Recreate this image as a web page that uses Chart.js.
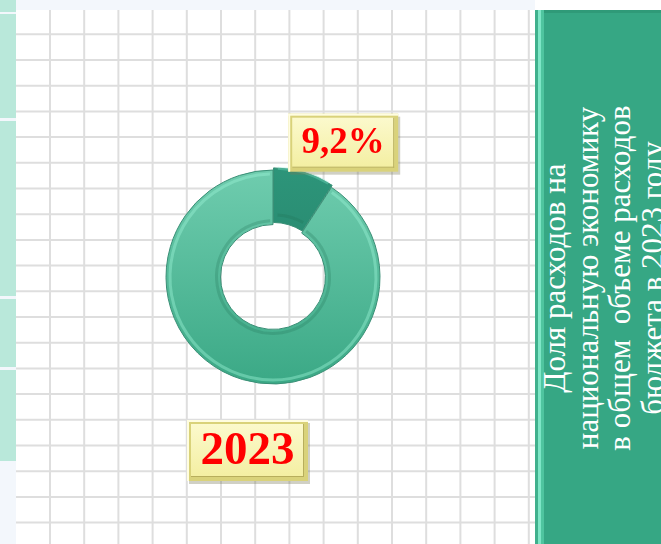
<!DOCTYPE html>
<html>
<head>
<meta charset="utf-8">
<script src="https://cdn.jsdelivr.net/npm/chart.js@4.4.0/dist/chart.umd.min.js"></script>
<style>
  body { margin: 0; width: 661px; height: 544px; overflow: hidden; background: #fff; position: relative; }
  #chart { position: absolute; left: 0; top: 0; }
  #side {
    position: absolute; left: 535px; top: 10px; width: 126px; height: 534px;
    background: #36a784;
    box-shadow: inset 3px 0 0 #3fb08c, inset 6px 0 0 #7ee6c6, inset 9px 0 0 #4fc59f, inset 0 3px 0 #2f9a78;
  }
  #side .txt {
    position: absolute; left: 68.5px; top: 268px; width: 520px;
    transform: translate(-50%, -50%) rotate(-90deg);
    font-family: "Liberation Serif", serif; font-size: 31px; line-height: 32.5px;
    color: #fff; text-align: center; white-space: pre;
  }
</style>
</head>
<body>
<canvas id="chart" width="661" height="544"></canvas>
<div id="side"><div class="txt" id="title"></div></div>

<script>
  // data
  const categories = ['Национальная экономика', 'Прочие расходы'];
  const shares = [9.2, 90.8];
  const yearLabel = '2023';
  const titleLines = ['Доля расходов на', 'национальную экономику', 'в общем  объеме расходов', 'бюджета в 2023 году'];

  document.getElementById('title').textContent = titleLines.join('\n');

  function pctText(v) {
    return v.toFixed(1).replace('.', ',') + '%';
  }

  // squared paper + left strip behind the chart
  const paperPlugin = {
    id: 'paper',
    beforeDraw(chart) {
      const ctx = chart.ctx;
      const W = chart.width, H = chart.height;
      ctx.save();
      ctx.fillStyle = '#fff';
      ctx.fillRect(0, 0, W, H);
      ctx.strokeStyle = '#dedede';
      ctx.lineWidth = 2;
      for (let x = 50; x < 535; x += 34.2) {
        ctx.beginPath(); ctx.moveTo(x, 10); ctx.lineTo(x, H); ctx.stroke();
      }
      for (let y = 8.6; y < H; y += 25.7) {
        ctx.beginPath(); ctx.moveTo(16, y); ctx.lineTo(535, y); ctx.stroke();
      }
      ctx.fillStyle = '#f3f7fc';
      ctx.fillRect(16, 0, 519, 10);
      ctx.fillRect(0, 0, 16, H);
      ctx.fillStyle = '#b9e8da';
      [[0, 12], [14, 118], [121, 296], [299, 367], [370, 461]].forEach(p => {
        ctx.fillRect(0, p[0], 16, p[1] - p[0]);
      });
      ctx.restore();
    }
  };

  function drawTag(ctx, cx, cy, w, h, text, font) {
    const x = cx - w / 2, y = cy - h / 2;
    ctx.save();
    ctx.fillStyle = 'rgba(120,120,90,0.35)';
    ctx.fillRect(x + 2, y + 3, w, h);
    ctx.fillStyle = '#d9d27a';
    ctx.fillRect(x, y, w, h);
    const g = ctx.createLinearGradient(0, y, 0, y + h);
    g.addColorStop(0, '#fcfad0');
    g.addColorStop(1, '#f3ee9e');
    ctx.fillStyle = g;
    ctx.fillRect(x + 4, y + 4, w - 8, h - 8);
    ctx.fillStyle = '#fffde0';
    ctx.fillRect(x, y, w, 2);
    ctx.fillRect(x, y, 2, h);
    ctx.fillStyle = '#b7ae5c';
    ctx.fillRect(x + 4, y + h - 5, w - 8, 1);
    ctx.fillRect(x + w - 5, y + 4, 1, h - 8);
    ctx.fillStyle = '#ff0000';
    ctx.font = font;
    ctx.textAlign = 'center';
    ctx.textBaseline = 'middle';
    ctx.fillText(text, cx, cy + 1);
    ctx.restore();
  }

  // soft highlight on the rim of the ring for a bit of relief
  const reliefPlugin = {
    id: 'relief',
    afterDatasetsDraw(chart) {
      const meta = chart.getDatasetMeta(0);
      const ctx = chart.ctx;
      ctx.save();
      meta.data.forEach((arc, i) => {
        const off = i === 0 ? 6 : 0;
        const mid = (arc.startAngle + arc.endAngle) / 2;
        const cx = arc.x + Math.cos(mid) * off, cy = arc.y + Math.sin(mid) * off;
        ctx.strokeStyle = i === 0 ? 'rgba(120,230,200,0.35)' : 'rgba(150,240,210,0.45)';
        ctx.lineWidth = 3;
        ctx.beginPath();
        ctx.arc(cx, cy, arc.outerRadius - 4, arc.startAngle + 0.03, arc.endAngle - 0.03);
        ctx.stroke();
        ctx.beginPath();
        ctx.arc(cx, cy, arc.innerRadius + 4, arc.startAngle + 0.05, arc.endAngle - 0.05);
        ctx.strokeStyle = 'rgba(30,110,85,0.25)';
        ctx.stroke();
      });
      ctx.restore();
    }
  };

  const tagPlugin = {
    id: 'tags',
    afterDatasetsDraw(chart) {
      const arc = chart.getDatasetMeta(0).data[0];
      const ctx = chart.ctx;
      const mid = (arc.startAngle + arc.endAngle) / 2;
      const r = arc.outerRadius + 6;
      const px = arc.x + Math.cos(mid) * r;
      const py = arc.y + Math.sin(mid) * r;
      drawTag(ctx, px + 38, py - 26, 110, 58, pctText(shares[0]), 'bold 37px "Liberation Serif"');
      drawTag(ctx, arc.x - 25.5, arc.y + 173.5, 121, 61, yearLabel, 'bold 47px "Liberation Serif"');
    }
  };

  function ringFill(ctx, top, bottom) {
    const area = ctx.chart.chartArea;
    if (!area) return top;
    const g = ctx.chart.ctx.createLinearGradient(0, area.top, 0, area.bottom);
    g.addColorStop(0, top);
    g.addColorStop(1, bottom);
    return g;
  }

  new Chart(document.getElementById('chart'), {
    type: 'doughnut',
    data: {
      labels: categories,
      datasets: [{
        data: shares,
        backgroundColor: c => c.dataIndex === 0
          ? ringFill(c, '#2d957a', '#237c63')
          : ringFill(c, '#70cdaf', '#3aa885'),
        borderColor: '#3a8f76',
        borderWidth: 1,
        offset: [6, 0]
      }]
    },
    options: {
      responsive: false,
      animation: false,
      cutout: '49%',
      layout: { padding: { left: 162.5, right: 277.5, top: 166.5, bottom: 156.5 } },
      plugins: {
        legend: { display: false },
        tooltip: { enabled: false }
      }
    },
    plugins: [paperPlugin, reliefPlugin, tagPlugin]
  });
</script>
</body>
</html>
